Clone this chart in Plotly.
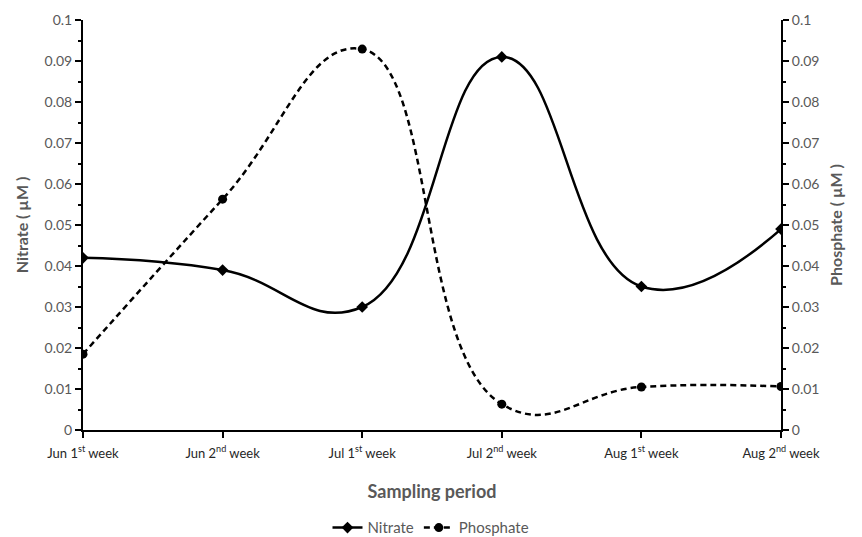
import plotly.graph_objects as go

categories = ["Jun 1<sup>st</sup> week", "Jun 2<sup>nd</sup> week", "Jul 1<sup>st</sup> week",
              "Jul 2<sup>nd</sup> week", "Aug 1<sup>st</sup> week", "Aug 2<sup>nd</sup> week"]
nitrate = [0.042, 0.039, 0.030, 0.091, 0.035, 0.049]
phosphate = [0.0185, 0.0563, 0.0929, 0.0063, 0.0105, 0.0106]
x = list(range(len(categories)))

FONT = "Lato"
GRAY = "#595959"

fig = go.Figure()
fig.add_trace(go.Scatter(
    x=x, y=nitrate, name="Nitrate", mode="lines+markers",
    line=dict(color="black", width=2.5, shape="spline", smoothing=1.3),
    marker=dict(symbol="diamond", size=9, color="black"),
))
fig.add_trace(go.Scatter(
    x=x, y=phosphate, name="Phosphate", mode="lines+markers", yaxis="y2",
    line=dict(color="black", width=2.5, dash="6px,4px", shape="spline", smoothing=1.3),
    marker=dict(symbol="circle", size=9, color="black"),
))

yax = dict(range=[0, 0.1], dtick=0.01, showgrid=False, zeroline=False,
           showline=True, linecolor="black", linewidth=2,
           ticks="outside", ticklen=6, tickwidth=2, tickcolor="black",
           minor=dict(dtick=0.005, ticks="outside", ticklen=3, tickwidth=1.5, tickcolor="black"),
           tickfont=dict(family=FONT, size=14, color=GRAY), tickformat="~g", automargin=False)

fig.update_layout(
    width=862, height=537,
    margin=dict(l=83, r=81, t=20, b=107, autoexpand=False),
    paper_bgcolor="white", plot_bgcolor="white",
    font=dict(family=FONT),
    xaxis=dict(range=[0, 5], tickvals=x, ticktext=categories, automargin=False,
               showgrid=False, zeroline=False, showline=True, linecolor="black", linewidth=2,
               ticks="outside", ticklen=6, tickwidth=2, tickcolor="black", ticklabelstandoff=4,
               tickfont=dict(family=FONT, size=13, color="#262626"),
               title=dict(text="<b>Sampling period</b>", font=dict(family=FONT, size=18, color=GRAY),
                          standoff=26)),
    yaxis=dict(**yax, title=dict(text="<b>Nitrate ( µM )</b>", font=dict(family=FONT, size=16, color=GRAY),
                                 standoff=12)),
    yaxis2=dict(**yax, overlaying="y", side="right",
                title=dict(text="<b>Phosphate ( µM )</b>", font=dict(family=FONT, size=16, color=GRAY),
                           standoff=12)),
    showlegend=True,
    legend=dict(orientation="h", x=0.5, xanchor="center", xref="container",
                y=0.017, yanchor="middle", yref="container",
                font=dict(family=FONT, size=15, color=GRAY)),
)

fig.write_html("out.html")
